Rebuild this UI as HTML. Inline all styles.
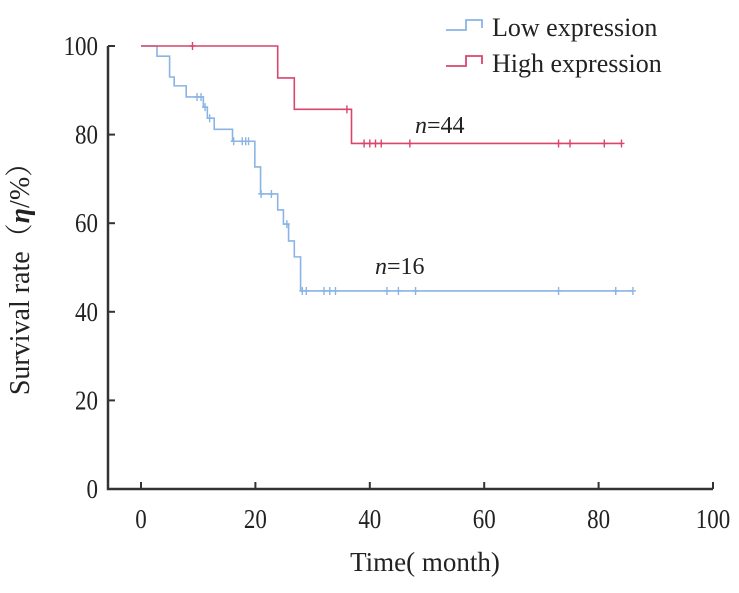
<!DOCTYPE html>
<html><head><meta charset="utf-8"><style>
body{margin:0;background:#fff}
svg{display:block;font-family:"Liberation Serif","Noto Serif CJK SC",serif}
</style></head><body>
<svg id="chart" width="739" height="593" viewBox="0 0 739 593">
<g id="axes"></g>
<g id="series"></g>
<g>
 <path d="M446 30 H466 V20 H482 V28" fill="none" stroke="#8ab4e4" stroke-width="1.8"/>
 <text x="492" y="36" font-size="26" fill="#222">Low expression</text>
 <path d="M446 66 H466 V56 H482 V64" fill="none" stroke="#d9456b" stroke-width="1.8"/>
 <text x="492" y="72" font-size="26" fill="#222">High expression</text>
</g>
<text x="415" y="133" font-size="24" fill="#222"><tspan font-style="italic">n</tspan>=44</text>
<text x="375" y="274" font-size="24" fill="#222"><tspan font-style="italic">n</tspan>=16</text>
<text transform="translate(29 272) rotate(-90)" text-anchor="middle" font-size="28" fill="#222">Survival rate（<tspan font-style="italic" font-weight="bold">η</tspan>/%）</text>
<text x="425" y="571" text-anchor="middle" font-size="27" fill="#222">Time( month)</text>
</svg>
<script>
const xTicks=[0,20,40,60,80,100];
const yTicks=[0,20,40,60,80,100];
const lowTimes=[0,2.8,5,5.8,7.9,10.9,11.6,12.8,16,19.9,20.9,23.9,24.9,25.8,26.8,27.9,86];
const lowSurv=[100,97.7,93,91,88.5,86.2,83.7,81.2,78.5,72.7,66.6,63,59.8,56,52.4,44.7,44.7];
const lowCensor=[9.8,10.5,11.2,12,16.2,17.7,18.3,18.8,21,22.8,25.5,28.2,28.9,32,33,34,43,45,48,73,83,86];
const highTimes=[0,23.9,26.8,36.8,84];
const highSurv=[100,92.8,85.7,78,78];
const highCensor=[9,36,39,40,41,42,47,73,75,81,84];
const NS="http://www.w3.org/2000/svg";
const X=t=>141+t*5.72, Y=v=>489-v*4.43;
const axes=document.getElementById('axes'), series=document.getElementById('series');
function mk(tag,attrs,parent){const e=document.createElementNS(NS,tag);for(const k in attrs)e.setAttribute(k,attrs[k]);parent.appendChild(e);return e;}
let e=mk('path',{d:`M108 ${Y(100)} V489 H713`,fill:'none',stroke:'#333','stroke-width':2.5},axes);


xTicks.forEach(t=>{
 let l=mk('line',{x1:X(t),x2:X(t),y1:489,y2:482,stroke:'#333','stroke-width':2},axes);
 
 
 let tx=mk('text',{transform:`translate(${X(t)} 528) scale(0.85 1)`,'text-anchor':'middle','font-size':27,fill:'#222'},axes);tx.textContent=t;
 
 
});
yTicks.forEach(v=>{
 let l=mk('line',{x1:108,x2:115,y1:Y(v),y2:Y(v),stroke:'#333','stroke-width':2},axes);
 
 
 let tx=mk('text',{transform:`translate(98 ${Y(v)+9}) scale(0.85 1)`,'text-anchor':'end','font-size':27,fill:'#222'},axes);tx.textContent=v;
 
 
});
function survAt(ts,ss,t){let s=ss[0];for(let i=0;i<ts.length;i++)if(ts[i]<=t)s=ss[i];return s;}
function draw(ts,ss,cs,color,name){
 let d=`M${X(ts[0])} ${Y(ss[0])}`;
 for(let i=1;i<ts.length;i++){d+=` H${X(ts[i])} V${Y(ss[i])}`;}
 let p=mk('path',{d,fill:'none',stroke:color,'stroke-width':1.6},series);
 
 
 cs.forEach(c=>{
  const y=Y(survAt(ts,ss,c));
  let m=mk('path',{d:`M${X(c)} ${y-4} V${y+4} M${X(c)-3} ${y} H${X(c)+3}`,stroke:color,'stroke-width':1.4},series);
  
  
 });
}
draw(lowTimes,lowSurv,lowCensor,'#8ab4e4','low-expression');
draw(highTimes,highSurv,highCensor,'#d9456b','high-expression');
</script>
</body></html>
